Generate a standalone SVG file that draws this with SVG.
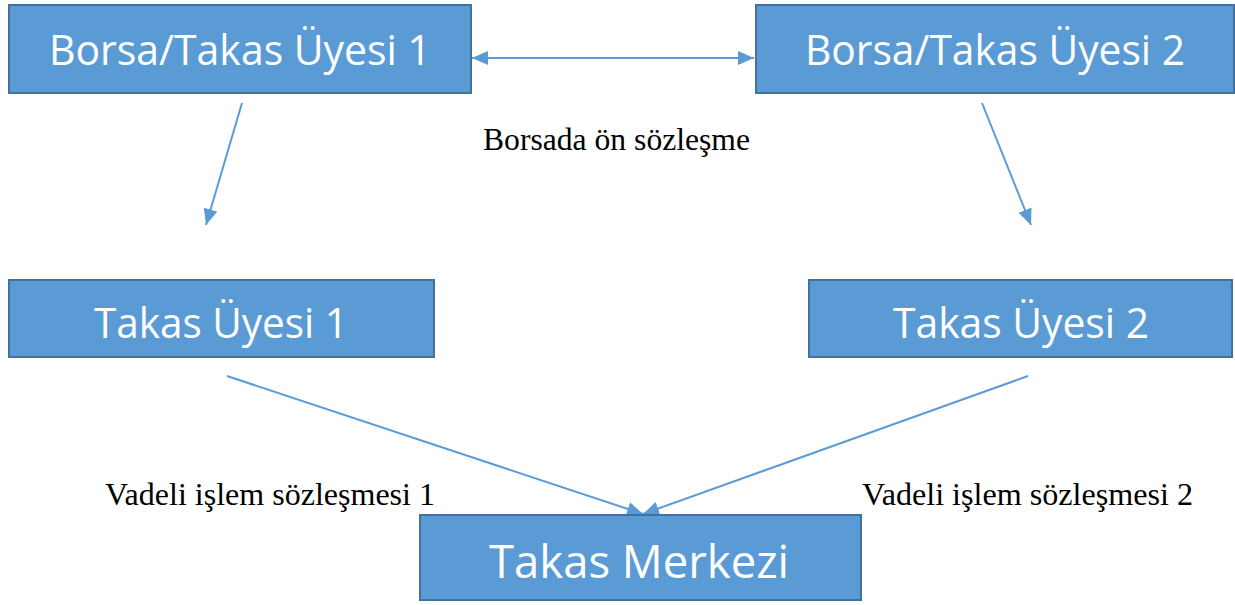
<svg xmlns="http://www.w3.org/2000/svg" width="1235" height="605" viewBox="0 0 1235 605">
<defs>
<style>
.box{fill:#5B9BD5;stroke:#41719C;stroke-width:2}
.bt{font-family:"Open Sans",sans-serif;font-size:42px;fill:#fff;text-anchor:middle}
.lb{font-family:"Liberation Serif",serif;font-size:31.5px;fill:#000}
.cn{stroke:#5B9BD5;stroke-width:2;fill:none}
</style>
<marker id="ah2" viewBox="0 0 10 10" refX="10" refY="5" markerWidth="16" markerHeight="14" markerUnits="userSpaceOnUse" orient="auto-start-reverse" preserveAspectRatio="none">
<path d="M0,0 L10,5 L0,10 z" fill="#5B9BD5"/>
</marker>
</defs>
<rect width="1235" height="605" fill="#fff"/>
<g id="connectors">
<line class="cn" x1="472" y1="58" x2="754" y2="58" marker-start="url(#ah2)" marker-end="url(#ah2)"/>
<line class="cn" x1="242" y1="103" x2="206" y2="225" marker-end="url(#ah2)"/>
<line class="cn" x1="982" y1="103" x2="1031" y2="225" marker-end="url(#ah2)"/>
<line class="cn" x1="227" y1="376" x2="643" y2="514" marker-end="url(#ah2)"/>
<line class="cn" x1="1028" y1="376" x2="643" y2="514" marker-end="url(#ah2)"/>
</g>
<g id="n1"><rect class="box" x="9" y="5" width="462" height="88"/><text class="bt" x="240" y="65" textLength="382" lengthAdjust="spacingAndGlyphs">Borsa/Takas Üyesi 1</text></g>
<g id="n2"><rect class="box" x="756" y="5" width="478" height="88"/><text class="bt" x="995" y="65" textLength="380" lengthAdjust="spacingAndGlyphs">Borsa/Takas Üyesi 2</text></g>
<g id="n3"><rect class="box" x="9" y="280" width="425" height="77"/><text class="bt" x="221" y="338" textLength="254" lengthAdjust="spacingAndGlyphs">Takas Üyesi 1</text></g>
<g id="n4"><rect class="box" x="809" y="280" width="423" height="77"/><text class="bt" x="1021" y="338" textLength="256" lengthAdjust="spacingAndGlyphs">Takas Üyesi 2</text></g>
<g id="n5"><rect class="box" x="420" y="515" width="441" height="85"/><text class="bt" x="639" y="578" style="font-size:46px" textLength="300" lengthAdjust="spacingAndGlyphs">Takas Merkezi</text></g>
<g id="labels">
<text class="lb" x="483" y="150" textLength="267" lengthAdjust="spacingAndGlyphs">Borsada ön sözleşme</text>
<text class="lb" x="105" y="505" textLength="330" lengthAdjust="spacingAndGlyphs">Vadeli işlem sözleşmesi 1</text>
<text class="lb" x="862" y="505" textLength="331" lengthAdjust="spacingAndGlyphs">Vadeli işlem sözleşmesi 2</text>
</g>
</svg>
